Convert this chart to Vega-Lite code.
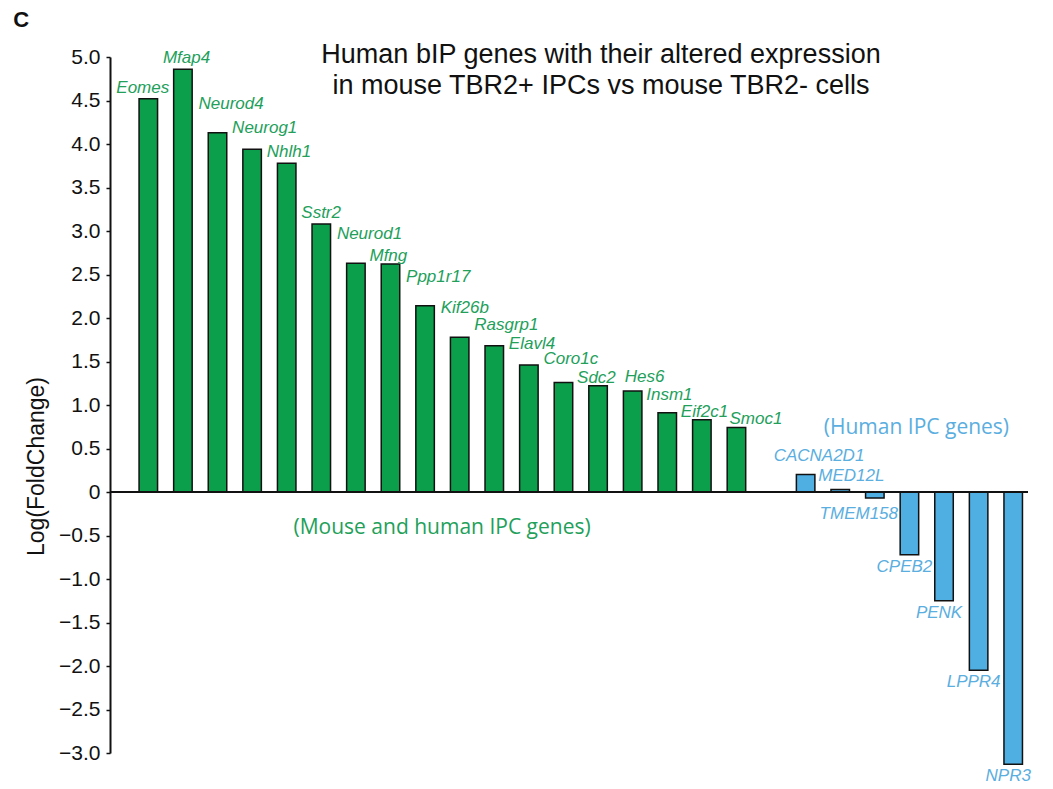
{
  "$schema": "https://vega.github.io/schema/vega-lite/v6.json",
  "autosize": {"type": "none"},
  "padding": {"left": 110, "top": 57, "right": 25, "bottom": 36},
  "width": 918,
  "height": 696,
  "background": "white",
  "config": {"view": {"stroke": null}},
  "title": {
    "text": ["Human bIP genes with their altered expression", " in mouse TBR2+ IPCs vs mouse TBR2- cells"],
    "font": "Liberation Sans",
    "fontSize": 27,
    "fontWeight": "normal",
    "color": "#111111",
    "anchor": "middle",
    "frame": "group",
    "baseline": "alphabetic",
    "lineHeight": 31,
    "offset": 0,
    "dx": 32,
    "dy": 112
  },
  "datasets": {
    "genes": [
      {"gene": "Eomes", "value": 4.52, "group": "Mouse and human IPC genes"},
      {"gene": "Mfap4", "value": 4.86, "group": "Mouse and human IPC genes"},
      {"gene": "Neurod4", "value": 4.13, "group": "Mouse and human IPC genes"},
      {"gene": "Neurog1", "value": 3.94, "group": "Mouse and human IPC genes"},
      {"gene": "Nhlh1", "value": 3.78, "group": "Mouse and human IPC genes"},
      {"gene": "Sstr2", "value": 3.08, "group": "Mouse and human IPC genes"},
      {"gene": "Neurod1", "value": 2.63, "group": "Mouse and human IPC genes"},
      {"gene": "Mfng", "value": 2.62, "group": "Mouse and human IPC genes"},
      {"gene": "Ppp1r17", "value": 2.14, "group": "Mouse and human IPC genes"},
      {"gene": "Kif26b", "value": 1.78, "group": "Mouse and human IPC genes"},
      {"gene": "Rasgrp1", "value": 1.68, "group": "Mouse and human IPC genes"},
      {"gene": "Elavl4", "value": 1.46, "group": "Mouse and human IPC genes"},
      {"gene": "Coro1c", "value": 1.26, "group": "Mouse and human IPC genes"},
      {"gene": "Sdc2", "value": 1.22, "group": "Mouse and human IPC genes"},
      {"gene": "Hes6", "value": 1.16, "group": "Mouse and human IPC genes"},
      {"gene": "Insm1", "value": 0.91, "group": "Mouse and human IPC genes"},
      {"gene": "Eif2c1", "value": 0.83, "group": "Mouse and human IPC genes"},
      {"gene": "Smoc1", "value": 0.74, "group": "Mouse and human IPC genes"},
      {"gene": "CACNA2D1", "value": 0.2, "group": "Human IPC genes"},
      {"gene": "MED12L", "value": 0.03, "group": "Human IPC genes"},
      {"gene": "TMEM158", "value": -0.07, "group": "Human IPC genes"},
      {"gene": "CPEB2", "value": -0.72, "group": "Human IPC genes"},
      {"gene": "PENK", "value": -1.25, "group": "Human IPC genes"},
      {"gene": "LPPR4", "value": -2.05, "group": "Human IPC genes"},
      {"gene": "NPR3", "value": -3.13, "group": "Human IPC genes"}
    ],
    "notes": [
      {"note": "(Mouse and human IPC genes)", "gene": "Ppp1r17", "value": -0.41, "group": "Mouse and human IPC genes"},
      {"note": "(Human IPC genes)", "gene": "CPEB2", "value": 0.74, "group": "Human IPC genes"},
      {"note": "C", "gene": "Eomes", "value": 5.43, "group": "panel"}
    ]
  },
  "encoding": {
    "x": {
      "field": "gene",
      "type": "nominal",
      "scale": {
        "domain": ["Eomes", "Mfap4", "Neurod4", "Neurog1", "Nhlh1", "Sstr2", "Neurod1", "Mfng", "Ppp1r17", "Kif26b", "Rasgrp1", "Elavl4", "Coro1c", "Sdc2", "Hes6", "Insm1", "Eif2c1", "Smoc1", " ", "CACNA2D1", "MED12L", "TMEM158", "CPEB2", "PENK", "LPPR4", "NPR3"],
        "paddingInner": 0.465,
        "paddingOuter": 0.5,
        "align": 0.84
      },
      "axis": null
    },
    "y": {
      "field": "value",
      "type": "quantitative",
      "scale": {"domain": [-3, 5], "nice": false, "zero": false},
      "axis": {
        "values": [-3, -2.5, -2, -1.5, -1, -0.5, 0, 0.5, 1, 1.5, 2, 2.5, 3, 3.5, 4, 4.5, 5],
        "labelExpr": "datum.value == 0 ? '0' : format(datum.value, '.1f')",
        "grid": false,
        "domainColor": "#111111",
        "domainWidth": 2,
        "tickColor": "#111111",
        "tickWidth": 1.5,
        "tickSize": 4,
        "labelPadding": 6,
        "labelFont": "Liberation Sans",
        "labelFontSize": 21,
        "labelColor": "#111111",
        "title": "Log(FoldChange)",
        "titleFont": "Liberation Sans",
        "titleFontSize": 23,
        "titleFontWeight": "normal",
        "titleColor": "#111111",
        "titleAngle": -90,
        "titleAlign": "center",
        "titleBaseline": "middle",
        "titleX": -74,
        "titleY": 409
      }
    },
    "color": {
      "field": "group",
      "type": "nominal",
      "scale": {"domain": ["Mouse and human IPC genes", "Human IPC genes"], "range": ["#0b9f4b", "#4fafe3"]},
      "legend": null
    }
  },
  "layer": [
    {
      "data": {"name": "genes"},
      "mark": {"type": "bar", "stroke": "#111111", "strokeWidth": 1.5, "opacity": 1},
      "encoding": {}
    },
    {
      "data": {"name": "genes"},
      "mark": {"type": "rule", "color": "#111111", "strokeWidth": 2},
      "encoding": {"x": null, "color": null, "y": {"datum": 0, "type": "quantitative"}}
    },
    {
      "data": {"name": "genes"},
      "transform": [{"filter": "indexof(['Mfap4','Nhlh1','Sstr2'], datum.gene) >= 0"}],
      "mark": {"type": "text", "font": "Liberation Sans", "fontStyle": "italic", "fontSize": 17, "align": "left", "baseline": "alphabetic", "dx": -20, "dy": -6, "color": "#22a05a"},
      "encoding": {"text": {"field": "gene"}, "color": null}
    },
    {
      "data": {"name": "genes"},
      "transform": [{"filter": "indexof(['Mfng','Eif2c1','Sdc2'], datum.gene) >= 0"}],
      "mark": {"type": "text", "font": "Liberation Sans", "fontStyle": "italic", "fontSize": 17, "align": "left", "baseline": "alphabetic", "dx": -21, "dy": -3, "color": "#22a05a"},
      "encoding": {"text": {"field": "gene"}, "color": null}
    },
    {
      "data": {"name": "genes"},
      "transform": [{"filter": "indexof(['Neurog1','Rasgrp1','Elavl4'], datum.gene) >= 0"}],
      "mark": {"type": "text", "font": "Liberation Sans", "fontStyle": "italic", "fontSize": 17, "align": "left", "baseline": "alphabetic", "dx": -20, "dy": -16, "color": "#22a05a"},
      "encoding": {"text": {"field": "gene"}, "color": null}
    },
    {
      "data": {"name": "genes"},
      "transform": [{"filter": "datum.gene == 'Coro1c'"}],
      "mark": {"type": "text", "font": "Liberation Sans", "fontStyle": "italic", "fontSize": 17, "align": "left", "baseline": "alphabetic", "dx": -20, "dy": -18, "color": "#22a05a"},
      "encoding": {"text": {"field": "gene"}, "color": null}
    },
    {
      "data": {"name": "genes"},
      "transform": [{"filter": "datum.gene == 'Insm1'"}],
      "mark": {"type": "text", "font": "Liberation Sans", "fontStyle": "italic", "fontSize": 17, "align": "left", "baseline": "alphabetic", "dx": -21, "dy": -13, "color": "#22a05a"},
      "encoding": {"text": {"field": "gene"}, "color": null}
    },
    {
      "data": {"name": "genes"},
      "transform": [{"filter": "indexof(['Neurod4','Neurod1','Ppp1r17','Kif26b'], datum.gene) >= 0"}],
      "mark": {"type": "text", "font": "Liberation Sans", "fontStyle": "italic", "fontSize": 17, "align": "left", "baseline": "alphabetic", "dx": -19, "dy": -24, "color": "#22a05a"},
      "encoding": {"text": {"field": "gene"}, "color": null}
    },
    {
      "data": {"name": "genes"},
      "transform": [{"filter": "datum.gene == 'Eomes'"}],
      "mark": {"type": "text", "font": "Liberation Sans", "fontStyle": "italic", "fontSize": 17, "align": "left", "baseline": "alphabetic", "dx": -32, "dy": -6, "color": "#22a05a"},
      "encoding": {"text": {"field": "gene"}, "color": null}
    },
    {
      "data": {"name": "genes"},
      "transform": [{"filter": "datum.gene == 'Hes6'"}],
      "mark": {"type": "text", "font": "Liberation Sans", "fontStyle": "italic", "fontSize": 17, "align": "left", "baseline": "alphabetic", "dx": -8, "dy": -9, "color": "#22a05a"},
      "encoding": {"text": {"field": "gene"}, "color": null}
    },
    {
      "data": {"name": "genes"},
      "transform": [{"filter": "datum.gene == 'Smoc1'"}],
      "mark": {"type": "text", "font": "Liberation Sans", "fontStyle": "italic", "fontSize": 17, "align": "left", "baseline": "alphabetic", "dx": -7, "dy": -4, "color": "#22a05a"},
      "encoding": {"text": {"field": "gene"}, "color": null}
    },
    {
      "data": {"name": "genes"},
      "transform": [{"filter": "datum.gene == 'CACNA2D1'"}],
      "mark": {"type": "text", "font": "Liberation Sans", "fontStyle": "italic", "fontSize": 17, "align": "left", "baseline": "alphabetic", "dx": -32, "dy": -14, "color": "#5aaee0"},
      "encoding": {"text": {"field": "gene"}, "color": null}
    },
    {
      "data": {"name": "genes"},
      "transform": [{"filter": "datum.gene == 'MED12L'"}],
      "mark": {"type": "text", "font": "Liberation Sans", "fontStyle": "italic", "fontSize": 17, "align": "left", "baseline": "alphabetic", "dx": -22, "dy": -8, "color": "#5aaee0"},
      "encoding": {"text": {"field": "gene"}, "color": null}
    },
    {
      "data": {"name": "genes"},
      "transform": [{"filter": "datum.gene == 'TMEM158'"}],
      "mark": {"type": "text", "font": "Liberation Sans", "fontStyle": "italic", "fontSize": 17, "align": "center", "baseline": "top", "dx": -16, "dy": 8, "color": "#5aaee0"},
      "encoding": {"text": {"field": "gene"}, "color": null}
    },
    {
      "data": {"name": "genes"},
      "transform": [{"filter": "datum.value < -0.5"}],
      "mark": {"type": "text", "font": "Liberation Sans", "fontStyle": "italic", "fontSize": 17, "align": "center", "baseline": "top", "dx": -5, "dy": 4, "color": "#5aaee0"},
      "encoding": {"text": {"field": "gene"}, "color": null}
    },
    {
      "data": {"name": "notes"},
      "transform": [{"filter": "datum.gene == 'Ppp1r17'"}],
      "mark": {"type": "text", "font": "Open Sans", "fontSize": 21, "align": "center", "baseline": "middle", "dx": 17, "color": "#22a05a"},
      "encoding": {"text": {"field": "note"}, "color": null}
    },
    {
      "data": {"name": "notes"},
      "transform": [{"filter": "datum.gene == 'CPEB2'"}],
      "mark": {"type": "text", "font": "Open Sans", "fontSize": 21, "align": "center", "baseline": "middle", "dx": 7, "color": "#5aaee0"},
      "encoding": {"text": {"field": "note"}, "color": null}
    },
    {
      "data": {"name": "notes"},
      "transform": [{"filter": "datum.group == 'panel'"}],
      "mark": {"type": "text", "font": "Liberation Sans", "fontWeight": "bold", "fontSize": 22, "align": "left", "baseline": "middle", "dx": -135, "color": "#111111"},
      "encoding": {"text": {"field": "note"}, "color": null}
    }
  ]
}
